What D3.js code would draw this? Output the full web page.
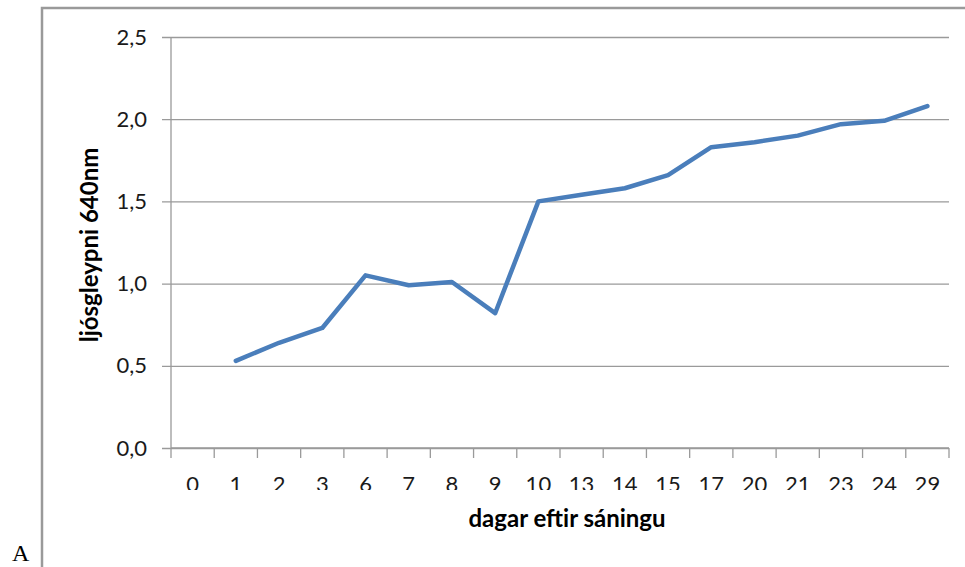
<!DOCTYPE html>
<meta charset="utf-8">
<style>
    body { margin: 0; background: #fff; }
    svg { display: block; }
    .tick text { font-family: Lato, "Open Sans", sans-serif; fill: #1a1a1a; }
</style>
<script src="https://d3js.org/d3.v7.min.js"></script>
<div id="graph"></div>
<script>
    // days after sowing (categories) and absorbance at 640nm
    var days = ["0", "1", "2", "3", "6", "7", "8", "9", "10", "13", "14", "15", "17", "20", "21", "23", "24", "29"]
    var absorbance = [null, 0.53, 0.64, 0.73, 1.05, 0.99, 1.01, 0.82, 1.50, 1.54, 1.58, 1.66, 1.83, 1.86, 1.90, 1.97, 1.99, 2.08]
    var yTicks = [0, 0.5, 1.0, 1.5, 2.0, 2.5]

    var W = 965, H = 567
    var margin = { top: 37, right: 16, bottom: 119, left: 171 },
        width = W - margin.left - margin.right,
        height = H - margin.top - margin.bottom;

    var svg = d3.select("#graph")
        .append("svg")
        .attr("width", W)
        .attr("height", H)

    // outer frame (only left and top edges visible)
    svg.append("rect")
        .attr("x", 42).attr("y", 8)
        .attr("width", W).attr("height", H)
        .attr("fill", "none")
        .attr("stroke", "#9a9a9a")
        .attr("stroke-width", 2.5)

    svg.append("text")
        .attr("x", 12).attr("y", 561)
        .attr("font-family", "'Liberation Serif', serif")
        .attr("font-size", "24px")
        .attr("fill", "#000")
        .text("A")

    var g = svg.append("g")
        .attr("transform", "translate(" + margin.left + "," + margin.top + ")")

    var x = d3.scaleBand()
        .domain(days)
        .range([0, width])
        .padding(0)

    var y = d3.scaleLinear()
        .domain([0, 2.5])
        .range([height, 0])

    // y axis with gridlines
    var yAxis = g.append("g")
        .call(d3.axisLeft(y)
            .tickValues(yTicks)
            .tickSize(-width)
            .tickPadding(24)
            .tickFormat(function (d) { return d3.format(".1f")(d).replace(".", ",") }))
    yAxis.select(".domain").remove()
    yAxis.selectAll(".tick line")
        .attr("x1", -9)
        .attr("stroke", "#9a9a9a")
        .attr("stroke-width", 1.3)
    yAxis.selectAll(".tick text")
        .attr("font-size", "22px")

    // vertical axis line
    g.append("line")
        .attr("x1", 0).attr("x2", 0)
        .attr("y1", 0).attr("y2", height)
        .attr("stroke", "#9a9a9a")
        .attr("stroke-width", 1.3)

    // x axis: labels at category centres, ticks between categories
    svg.append("clipPath").attr("id", "xclip")
        .append("rect").attr("x", -20).attr("y", 0).attr("width", width + 40).attr("height", 42)

    var xAxis = g.append("g")
        .attr("transform", "translate(0," + height + ")")
        .attr("clip-path", "url(#xclip)")
        .call(d3.axisBottom(x).tickSize(0).tickPadding(28))
    xAxis.select(".domain").remove()
    xAxis.selectAll(".tick text")
        .attr("font-size", "22px")

    var bounds = days.map(function (d) { return x(d) }).concat([width])
    var xTickG = g.append("g").attr("transform", "translate(0," + height + ")")
    xTickG.append("line")
        .attr("x1", 0).attr("x2", width)
        .attr("stroke", "#9a9a9a").attr("stroke-width", 1.3)
    xTickG.selectAll("line.tk")
        .data(bounds)
        .enter()
        .append("line")
        .attr("class", "tk")
        .attr("x1", function (d) { return d })
        .attr("x2", function (d) { return d })
        .attr("y1", 0).attr("y2", 10)
        .attr("stroke", "#9a9a9a").attr("stroke-width", 1.3)

    // the data line
    var line = d3.line()
        .defined(function (d, i) { return absorbance[i] != null })
        .x(function (d, i) { return x(days[i]) + x.bandwidth() / 2 })
        .y(function (d, i) { return y(absorbance[i]) })

    g.append("path")
        .datum(days)
        .attr("d", line)
        .attr("fill", "none")
        .attr("stroke", "#4a7ebb")
        .attr("stroke-width", 4.5)
        .attr("stroke-linejoin", "round")
        .attr("stroke-linecap", "round")

    // axis titles
    svg.append("text")
        .attr("transform", "translate(98,245) rotate(-90)")
        .attr("text-anchor", "middle")
        .attr("font-family", "Lato, sans-serif")
        .attr("font-weight", "bold")
        .attr("font-size", "24px")
        .attr("fill", "#000")
        .text("ljósgleypni 640nm")

    svg.append("text")
        .attr("x", 567)
        .attr("y", 527)
        .attr("text-anchor", "middle")
        .attr("font-family", "Lato, sans-serif")
        .attr("font-weight", "bold")
        .attr("font-size", "24px")
        .attr("fill", "#000")
        .text("dagar eftir sáningu")
</script>
